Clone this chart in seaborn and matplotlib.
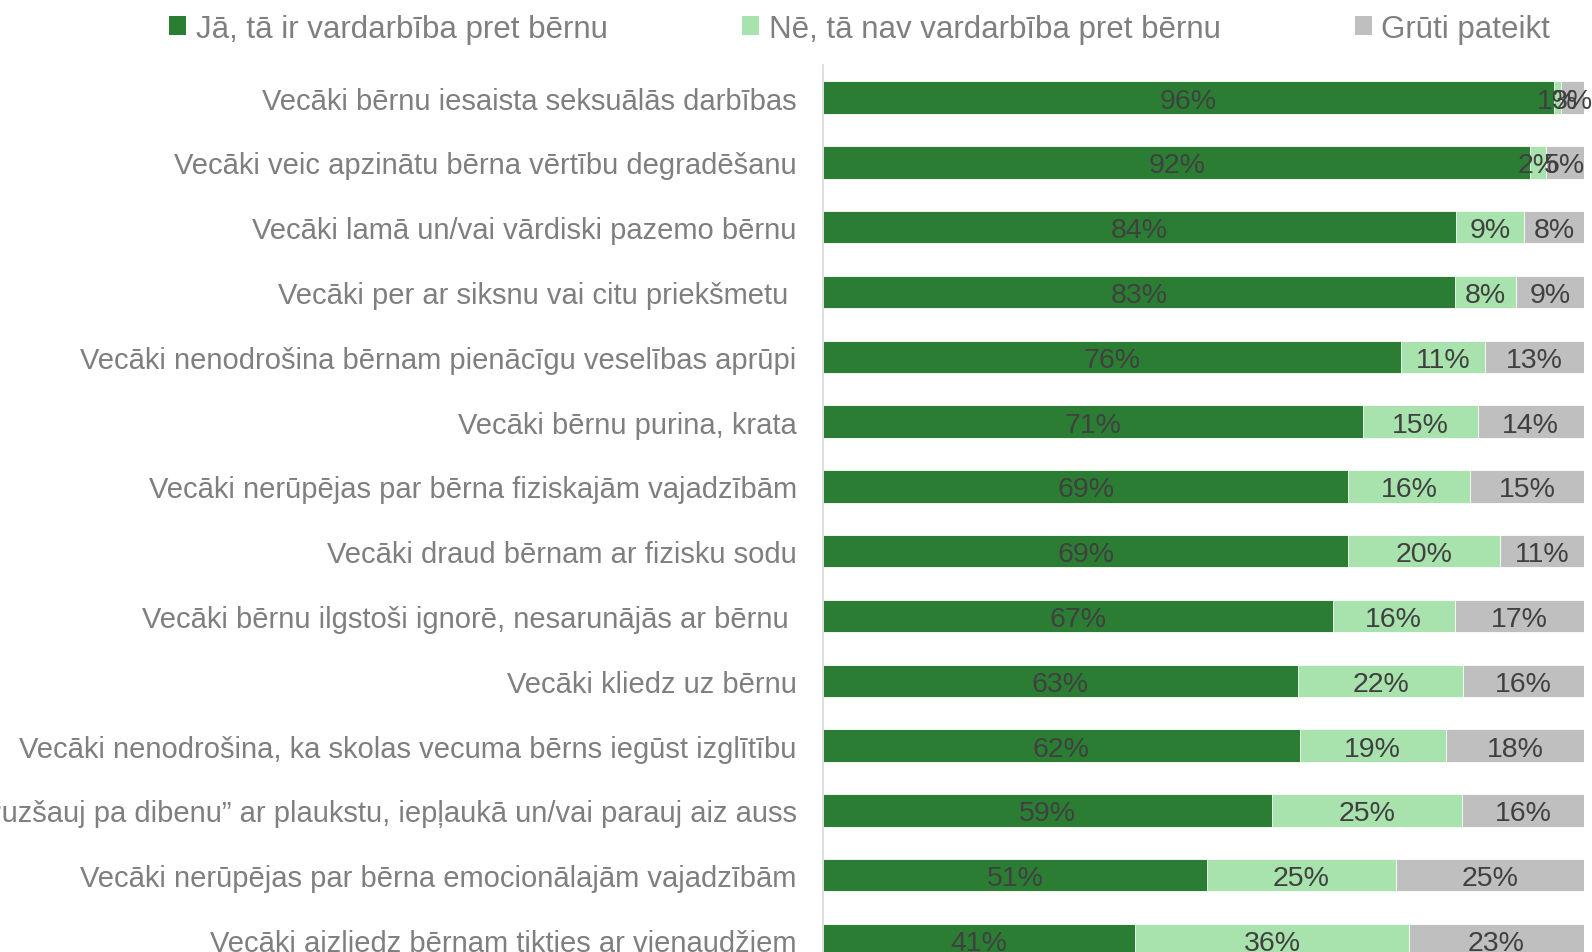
import matplotlib
matplotlib.use("Agg")
import matplotlib.pyplot as plt
import seaborn as sns
import pandas as pd
from matplotlib.patches import Patch

categories = [
    "Vecāki bērnu iesaista seksuālās darbības",
    "Vecāki veic apzinātu bērna vērtību degradēšanu",
    "Vecāki lamā un/vai vārdiski pazemo bērnu",
    "Vecāki per ar siksnu vai citu priekšmetu ",
    "Vecāki nenodrošina bērnam pienācīgu veselības aprūpi",
    "Vecāki bērnu purina, krata",
    "Vecāki nerūpējas par bērna fiziskajām vajadzībām",
    "Vecāki draud bērnam ar fizisku sodu",
    "Vecāki bērnu ilgstoši ignorē, nesarunājās ar bērnu ",
    "Vecāki kliedz uz bērnu",
    "Vecāki nenodrošina, ka skolas vecuma bērns iegūst izglītību",
    "Vecāki bērnam “uzšauj pa dibenu” ar plaukstu, iepļaukā un/vai parauj aiz auss",
    "Vecāki nerūpējas par bērna emocionālajām vajadzībām",
    "Vecāki aizliedz bērnam tikties ar vienaudžiem",
]
yes_vals = [96, 92, 84, 83, 76, 71, 69, 69, 67, 63, 62, 59, 51, 41]
no_vals = [1, 2, 9, 8, 11, 15, 16, 20, 16, 22, 19, 25, 25, 36]
hard_vals = [3, 5, 8, 9, 13, 14, 15, 11, 17, 16, 18, 16, 25, 23]

series_names = ["Jā, tā ir vardarbība pret bērnu", "Nē, tā nav vardarbība pret bērnu", "Grūti pateikt"]
colors = ["#2a7d33", "#a8e2ac", "#bfbfbf"]

df = pd.DataFrame({"cat": categories, "yes": yes_vals, "no": no_vals, "hard": hard_vals})
tot = df[["yes", "no", "hard"]].sum(axis=1)
df["c1"] = df["yes"] / tot
df["c2"] = (df["yes"] + df["no"]) / tot
df["c3"] = 1.0

plt.rcParams["font.family"] = ["Liberation Sans", "DejaVu Sans"]

fig = plt.figure(figsize=(15.92, 9.53), dpi=100)
ax = fig.add_axes([0.517, -0.0215, 0.478, 0.952])

for col, c in zip(["c3", "c2", "c1"], colors[::-1]):
    sns.barplot(data=df, x=col, y="cat", orient="h", color=c, width=0.5,
                edgecolor="white", linewidth=0.6, ax=ax, saturation=1)

# percentage labels
for i, row in df.iterrows():
    starts = [0, row["c1"], row["c2"]]
    ends = [row["c1"], row["c2"], row["c3"]]
    for s, e, v in zip(starts, ends, [row["yes"], row["no"], row["hard"]]):
        ax.text((s + e) / 2, i, f"{v}%", ha="center", va="center_baseline",
                fontsize=20.5, color="#404040")

ax.set_xlim(0, 1)
ax.set_ylim(13.5, -0.5)
ax.set_xlabel("")
ax.set_ylabel("")
ax.set_xticks([])
ax.tick_params(axis="y", length=0, pad=19, labelsize=21, labelcolor="#7f7f7f")
for lbl in ax.get_yticklabels():
    lbl.set_verticalalignment("center_baseline")
for s in ["top", "right", "bottom"]:
    ax.spines[s].set_visible(False)
ax.spines["left"].set_color("#d9d9d9")
ax.spines["left"].set_linewidth(1.2)

handles = [Patch(facecolor=c, edgecolor="none") for c in colors]
leg = fig.legend(handles, series_names, loc="center", bbox_to_anchor=(0.540, 0.969),
                 ncol=3, frameon=False, fontsize=22.5, handlelength=0.55, handleheight=0.55,
                 handletextpad=0.3, columnspacing=4.3)
for t in leg.get_texts():
    t.set_color("#7f7f7f")

fig.savefig("out.png", dpi=100)
